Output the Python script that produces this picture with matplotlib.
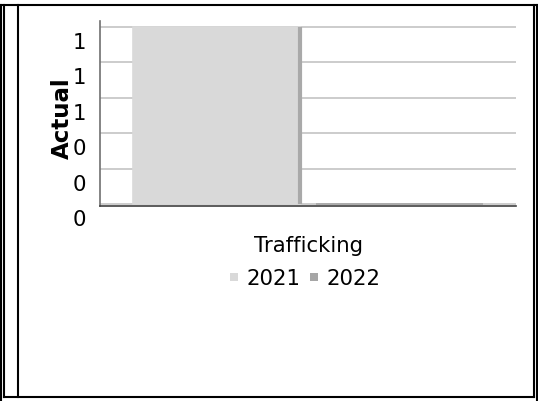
import matplotlib
matplotlib.use("Agg")
import matplotlib.pyplot as plt
from matplotlib.lines import Line2D
from matplotlib.transforms import ScaledTranslation

# data
categories = ["Trafficking"]
series = ["2021", "2022"]
values = {"2021": [1.0], "2022": [0.0]}
yticks = [0, 0.2, 0.4, 0.6, 0.8, 1.0]
colors = {"2021": "#D9D9D9", "2022": "#A6A6A6"}
side_color = "#A9A9A9"

W, H = 538, 402
fig = plt.figure(figsize=(W / 100, H / 100), dpi=100)
plt.rcParams['font.family'] = ['DejaVu Sans']
fs = 15.3

def fx(px):
    return px / W

def fy(py):
    return 1 - py / H

# axes placed in pixel terms
ax = fig.add_axes([fx(100), fy(207), fx(516) - fx(100), fy(22) - fy(207)])
ax.set_xlim(-0.5, 0.5)
ax.set_ylim(-0.012, 1.034)

offsets = {"2021": -0.22, "2022": 0.22}
width = 0.4
for s in series:
    for i, v in enumerate(values[s]):
        x = i + offsets[s]
        ax.bar(x, v, width=width, color=colors[s], edgecolor=colors[s],
               linewidth=1.2, zorder=3)
        if v > 0:
            # darker side face of the 3d bar
            ax.vlines(x + width / 2, 0, v, color=side_color, linewidth=3, zorder=4)

ax.set_yticks(yticks)
ax.set_yticklabels(["%.0f" % t for t in yticks])
ax.set_xticks(range(len(categories)))
ax.set_xticklabels(categories)
ax.tick_params(axis='y', length=0, pad=10, labelsize=fs)
ax.tick_params(axis='x', length=0, pad=21, labelsize=fs)
shift = ScaledTranslation(0, -13 / 100, fig.dpi_scale_trans)
for lab in ax.get_yticklabels():
    lab.set_transform(lab.get_transform() + shift)

ax.grid(axis='y', color='#C4C4C4', linewidth=1.2, zorder=1)
for sp in ['top', 'right']:
    ax.spines[sp].set_visible(False)
ax.spines['left'].set_color('#707070')
ax.spines['bottom'].set_color('#404040')
ax.spines['left'].set_linewidth(1.2)
ax.spines['bottom'].set_linewidth(1.2)

ax.set_ylabel("Actual", fontsize=16.5, fontweight='bold')
ax.yaxis.set_label_coords(-0.062, 0.48)

handles = [Line2D([], [], marker='s', linestyle='none', markersize=6,
                  markerfacecolor=colors[s], markeredgewidth=0) for s in series]
fig.legend(handles, series, loc='center', bbox_to_anchor=(fx(304), fy(279)),
           ncol=2, frameon=False, fontsize=fs, handlelength=0.6,
           handletextpad=0.3, columnspacing=0.35, borderaxespad=0)

# cell border lines
lw = 1.5
borders = [
    ((1, 537), (6, 6)),
    ((4, 534), (398, 398)),
    ((1, 1), (6, 402)),
    ((4, 4), (6, 398)),
    ((18, 18), (6, 398)),
    ((534, 534), (6, 398)),
    ((537, 537), (6, 402)),
]
for xs, ys in borders:
    fig.add_artist(Line2D([fx(xs[0]), fx(xs[1])], [fy(ys[0]), fy(ys[1])],
                          transform=fig.transFigure, color='black', linewidth=lw))

fig.savefig("out.png", dpi=100)
